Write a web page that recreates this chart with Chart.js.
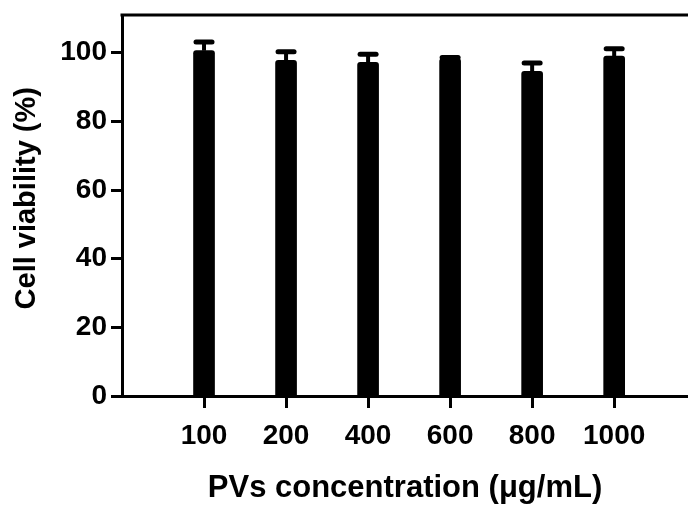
<!DOCTYPE html>
<html>
<head>
<meta charset="utf-8">
<script src="https://cdn.jsdelivr.net/npm/chart.js@4.4.1/dist/chart.umd.min.js"></script>
<style>
  html, body { margin: 0; padding: 0; background: #fff; overflow: hidden; }
  #wrap { width: 688px; height: 510px; position: relative; }
</style>
</head>
<body>
<div id="wrap"><canvas id="c"></canvas></div>
<script>
// ---- data ----
const categories = ['100', '200', '400', '600', '800', '1000'];
const viability = [100.6, 97.8, 97.2, 98.3, 94.6, 99.0];
const errors = [2.5, 2.5, 2.4, 0.3, 2.4, 2.2];
const yTicks = [0, 20, 40, 60, 80, 100];
const xTitle = 'PVs concentration (\u03BCg/mL)';
const yTitle = '\u2002Cell viability (%)';

const FONT = "'Liberation Sans', Arial, sans-serif";

const points = categories.map((c, i) => ({ x: i + 1, y: viability[i] }));

const errorBars = {
  id: 'errorBars',
  afterDatasetsDraw(chart) {
    const { ctx, scales: { x, y } } = chart;
    ctx.save();
    ctx.strokeStyle = '#000';
    points.forEach((p, i) => {
      const px = x.getPixelForValue(p.x);
      const yb = y.getPixelForValue(p.y);
      const yt = y.getPixelForValue(p.y + errors[i]);
      ctx.lineWidth = 4;
      ctx.lineCap = 'butt';
      ctx.beginPath();
      ctx.moveTo(px, yb);
      ctx.lineTo(px, yt);
      ctx.stroke();
      ctx.lineWidth = 5;
      ctx.lineCap = 'round';
      ctx.beginPath();
      ctx.moveTo(px - 8, yt);
      ctx.lineTo(px + 8, yt);
      ctx.stroke();
    });
    ctx.restore();
  }
};

const topFrame = {
  id: 'topFrame',
  afterDraw(chart) {
    const { ctx, chartArea } = chart;
    ctx.save();
    ctx.strokeStyle = '#000';
    ctx.lineWidth = 3;
    ctx.beginPath();
    ctx.moveTo(chartArea.left - 1.5, chartArea.top);
    ctx.lineTo(chart.width, chartArea.top);
    ctx.stroke();
    ctx.restore();
  }
};

new Chart(document.getElementById('c'), {
  type: 'bar',
  data: {
    datasets: [{
      data: points,
      backgroundColor: '#000',
      borderColor: '#000',
      borderWidth: 0,
      borderRadius: 3,
      borderSkipped: 'bottom',
      barThickness: 21
    }]
  },
  options: {
    responsive: true,
    maintainAspectRatio: false,
    animation: false,
    layout: { padding: { top: 15, right: 0, bottom: 0, left: 0 } },
    plugins: { legend: { display: false }, tooltip: { enabled: false } },
    scales: {
      x: {
        type: 'linear',
        offset: false,
        min: 0,
        max: 6.9,
        afterBuildTicks(axis) {
          axis.ticks = categories.map((c, i) => ({ value: i + 1 }));
        },
        afterFit(scale) { scale.height = 114; scale.paddingLeft = 0; scale.paddingRight = 0; },
        ticks: {
          callback: (v) => categories[v - 1] ?? '',
          color: '#000',
          font: { family: FONT, size: 28, weight: 'bold' },
          padding: 11,
          maxRotation: 0,
          autoSkip: false
        },
        grid: {
          display: true,
          offset: false,
          drawOnChartArea: false,
          drawTicks: true,
          tickLength: 12,
          tickWidth: 3,
          tickColor: '#000'
        },
        border: { display: true, color: '#000', width: 3 },
        title: {
          display: true,
          text: xTitle,
          color: '#000',
          font: { family: FONT, size: 31, weight: 'bold' },
          padding: { top: 0, bottom: 3 }
        }
      },
      y: {
        min: 0,
        max: 111,
        afterBuildTicks(axis) {
          axis.ticks = yTicks.map(v => ({ value: v }));
        },
        afterFit(scale) { scale.width = 122; scale.paddingTop = 0; scale.paddingBottom = 0; },
        ticks: {
          color: '#000',
          font: { family: FONT, size: 28, weight: 'bold' },
          padding: 4
        },
        grid: {
          display: true,
          drawOnChartArea: false,
          drawTicks: true,
          tickLength: 11,
          tickWidth: 3,
          tickColor: '#000'
        },
        border: { display: true, color: '#000', width: 3 },
        title: {
          display: true,
          text: yTitle,
          color: '#000',
          font: { family: FONT, size: 29, weight: 'bold' },
          padding: { top: 10, bottom: 0 }
        }
      }
    }
  },
  plugins: [errorBars, topFrame]
});
</script>
</body>
</html>
